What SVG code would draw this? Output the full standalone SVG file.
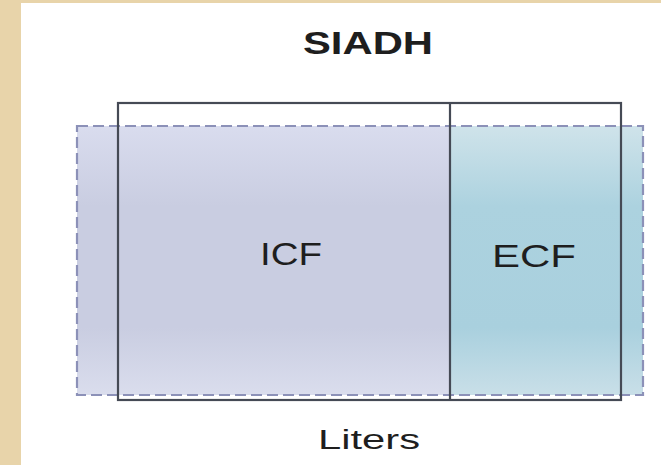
<svg xmlns="http://www.w3.org/2000/svg" width="661" height="465" viewBox="0 0 661 465">
  <style>
    .t { font-family: "Liberation Sans", Arial, sans-serif; fill: #1e1e1e; }
    .solid { fill: none; stroke: #454a55; stroke-width: 2.2; }
    .dash { fill: none; stroke: #8c91b8; stroke-width: 2.2; stroke-dasharray: 11 5; }
  </style>
  <defs>
    <linearGradient id="icfG" x1="0" y1="0" x2="0" y2="1">
      <stop offset="0" stop-color="#d9dcee"/>
      <stop offset="0.3" stop-color="#c9cde1"/>
      <stop offset="0.75" stop-color="#c9cde1"/>
      <stop offset="1" stop-color="#dadded"/>
    </linearGradient>
    <linearGradient id="ecfG" x1="0" y1="0" x2="0" y2="1">
      <stop offset="0" stop-color="#cfe3ea"/>
      <stop offset="0.3" stop-color="#acd2df"/>
      <stop offset="0.75" stop-color="#a9d0de"/>
      <stop offset="1" stop-color="#c9dfe8"/>
    </linearGradient>
  </defs>
  <rect x="0" y="0" width="661" height="465" fill="#e8d4aa"/>
  <rect x="21" y="3" width="640" height="462" fill="#ffffff"/>

  <g id="title">
    <text class="t" x="368" y="54" font-size="32" font-weight="bold" text-anchor="middle" textLength="130" lengthAdjust="spacingAndGlyphs">SIADH</text>
  </g>

  <g id="icf">
    <rect x="77" y="126" width="373" height="269" fill="url(#icfG)"/>
    <text class="t" x="291" y="265" font-size="31" text-anchor="middle" textLength="62" lengthAdjust="spacingAndGlyphs">ICF</text>
  </g>

  <g id="ecf">
    <rect x="450" y="126" width="193" height="269" fill="url(#ecfG)"/>
    <text class="t" x="534" y="267" font-size="31" text-anchor="middle" textLength="84" lengthAdjust="spacingAndGlyphs">ECF</text>
  </g>

  <g id="connectors">
    <rect class="dash" x="77" y="126" width="566" height="269"/>
    <rect class="solid" x="118" y="103" width="503" height="297"/>
    <line class="solid" x1="450" y1="103" x2="450" y2="400"/>
  </g>

  <g id="axis-label">
    <text class="t" x="369" y="449" font-size="27" text-anchor="middle" textLength="102" lengthAdjust="spacingAndGlyphs">Liters</text>
  </g>
</svg>
